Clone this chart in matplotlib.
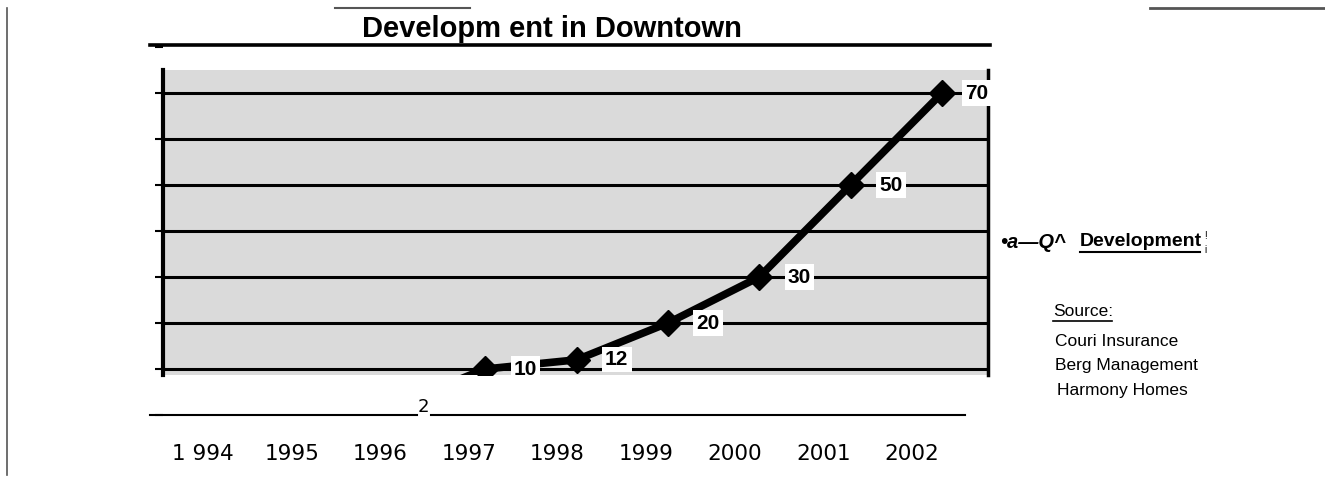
import matplotlib
matplotlib.use("Agg")
import matplotlib.pyplot as plt
from matplotlib.lines import Line2D

# data
years = [1994, 1995, 1996, 1997, 1998, 1999, 2000, 2001, 2002]
year_labels = ["1 994", "1995", "1996", "1997", "1998", "1999", "2000", "2001", "2002"]
dev_years = [1996, 1997, 1998, 1999, 2000, 2001, 2002]
dev_values = [2, 10, 12, 20, 30, 50, 70]
grid_values = [10, 20, 30, 40, 50, 60, 70]
sources = ["Couri Insurance", "Berg Management", "Harmony Homes"]

W, H = 1325, 483
fig = plt.figure(figsize=(W / 100, H / 100), dpi=100)
fig.patch.set_facecolor("white")


def px(x, y):
    return x / W, 1 - y / H


def fig_line(x0, y0, x1, y1, **kw):
    (a, b), (c, d) = px(x0, y0), px(x1, y1)
    fig.add_artist(Line2D([a, c], [b, d], transform=fig.transFigure, **kw))


# main axes
l, b = px(163, 375)
r, t = px(988, 70)
ax = fig.add_axes([l, b, r - l, t - b])
ax.set_facecolor("#dadada")
ax.set_xlim(1993.475, 2002.503)
ax.set_ylim(8.7, 75.0)
ax.set_yticks(grid_values)
ax.set_yticklabels([])
ax.set_xticks([])
ax.tick_params(axis="y", length=6, width=1.5, direction="out", color="black")
for v in grid_values:
    ax.axhline(v, color="black", lw=2.2, zorder=1)
for s in ["top", "bottom"]:
    ax.spines[s].set_visible(False)
ax.spines["left"].set_linewidth(3)
ax.spines["right"].set_linewidth(2.5)

# extra ticks at 0 and 80, outside the shaded area
ax.plot([ax.get_xlim()[0]] * 2, [0, 80], ls="none", marker=0, markersize=6,
        mew=1.5, color="black", clip_on=False)

# the line
ax.plot(dev_years, dev_values, color="black", lw=5.5, marker="D",
        markersize=13, zorder=4, solid_capstyle="round")

# value labels
for x, v in zip(dev_years, dev_values):
    if v == 2:
        ax.annotate(str(v), (x, v), xytext=(21, -1), textcoords="offset points",
                    ha="center", va="center", fontsize=13, family="DejaVu Sans",
                    annotation_clip=False)
    else:
        dx = 25 if v == 70 else 29
        ax.annotate(str(v), (x, v), xytext=(dx, 0), textcoords="offset points",
                    ha="center", va="center", fontsize=15, fontweight="bold",
                    family="Liberation Sans", zorder=5,
                    bbox=dict(boxstyle="square,pad=0.15", fc="white", ec="none"))

# year labels (printed slightly left of the data positions)
lab = ax.twiny()
lab.set_xlim(1993.548, 2002.858)
lab.set_xticks(years)
lab.set_xticklabels(year_labels, family="DejaVu Sans", fontsize=15.5)
lab.xaxis.set_ticks_position("bottom")
lab.xaxis.set_label_position("bottom")
lab.tick_params(axis="x", length=0, pad=50)
for s in lab.spines.values():
    s.set_visible(False)

# frame lines
fig_line(150, 45, 990, 45, color="black", lw=2.6)
fig_line(150, 415, 417, 415, color="black", lw=1.5)
fig_line(431, 415, 965, 415, color="black", lw=1.5)
fig_line(335, 8, 470, 8, color="#555555", lw=1.5)
fig_line(1150, 8, 1325, 8, color="#555555", lw=2)
fig_line(7, 8, 7, 475, color="#555555", lw=1.2)

# title
fig.text(*px(552, 29), "Developm ent in Downtown", ha="center", va="center",
         fontsize=21, fontweight="bold", family="Liberation Sans")

# legend
fig.text(*px(1000, 242), "•a—Q^", ha="left", va="center", fontsize=14.5,
         fontstyle="italic", fontweight="bold", family="Liberation Sans")
fig.text(*px(1080, 242), "Development", ha="left", va="center", fontsize=14,
         fontweight="bold", family="Liberation Sans")
fig_line(1080, 252, 1200, 252, color="black", lw=1.5)
fig.text(*px(1204, 236), "!", ha="left", va="center", fontsize=7,
         family="Liberation Sans")
fig.text(*px(1204, 250), "i", ha="left", va="center", fontsize=7,
         family="Liberation Sans")

# sources
fig.text(*px(1053, 312), "Source:", ha="left", va="center", fontsize=12.5,
         family="Liberation Sans")
fig_line(1053, 321, 1112, 321, color="black", lw=1.2)
for i, s in enumerate(sources):
    fig.text(*px(1055 + (2 if i == 2 else 0), 341 + 24.5 * i), s, ha="left",
             va="center", fontsize=12.5, family="Liberation Sans")

fig.savefig("out.png", dpi=100, facecolor="white")
